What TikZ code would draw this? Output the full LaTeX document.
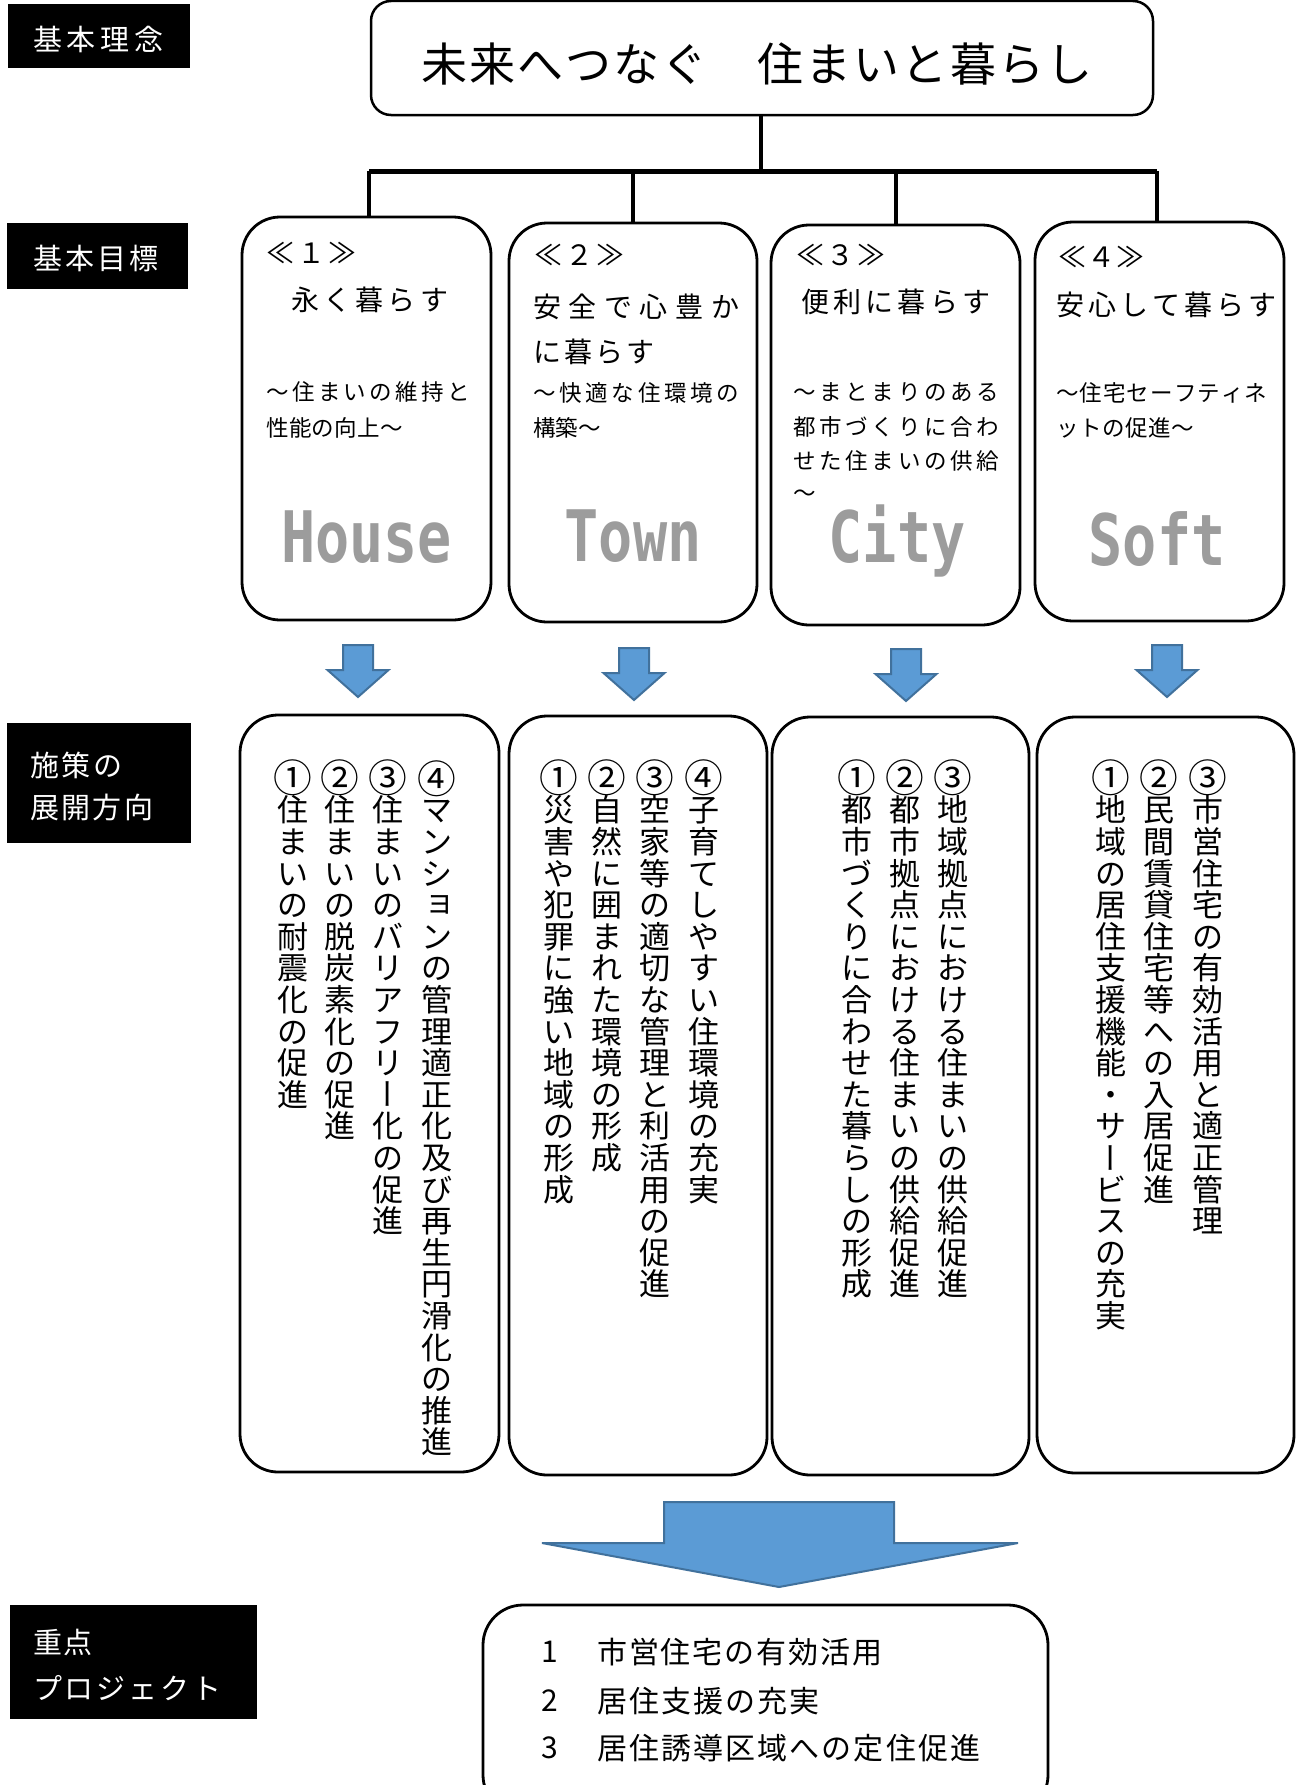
\documentclass[tikz,border=0pt]{standalone}
\usepackage{fontspec}
\setmainfont{Noto Sans CJK JP}
\newfontfamily\wordfont{DejaVu Sans Mono}[FakeStretch=0.8]
\definecolor{arrowfill}{HTML}{5B9BD5}
\definecolor{arrowline}{HTML}{41719C}
\definecolor{wordgray}{HTML}{9C9C9C}
\makeatletter
\newcommand\spreadto[2]{\hbox to #1{\spr@first#2\@nil}}
\def\spr@first#1{#1\spr@loop}
\def\spr@loop#1{\ifx#1\@nil\else\hfil#1\expandafter\spr@loop\fi}
\newcommand\vstack[1]{\vbox{\baselineskip=31.6pt\lineskiplimit=-100pt\lineskip=0pt\vst@loop#1\@nil}}
\def\vst@loop#1{\ifx#1\@nil\else\hbox to 32pt{\hss#1\hss}\expandafter\vst@loop\fi}
\makeatother
\newcommand\zsp{\hbox to 1em{}}
\newcommand\vbar{\rotatebox[origin=c]{90}{\raisebox{0pt}[0.88em][0.12em]{ー}}}
\newcommand\vyo{\kern0.2em\raisebox{0.12em}{ョ}}
\newcommand\circnum[1]{\raisebox{-0.09em}{\scalebox{1.25}{#1}}}
\newcommand\cA{\circnum{①}}
\newcommand\cB{\circnum{②}}
\newcommand\cC{\circnum{③}}
\newcommand\cD{\circnum{④}}
\tikzset{
  topbox/.style={draw, line width=2.5pt, rounded corners=20pt, inner sep=0pt, outer sep=0pt},
  goalbox/.style={draw, line width=2.8pt, rounded corners=38pt, inner sep=0pt, outer sep=0pt},
  labelbox/.style={fill=black, draw=black, inner sep=0pt, outer sep=0pt},
  link/.style={line width=4pt},
  barline/.style={line width=5pt},
  ttl/.style={inner sep=0pt, anchor=west, font=\fontsize{28}{30}\selectfont},
  sub/.style={inner sep=0pt, anchor=west, font=\fontsize{22.5}{24}\selectfont},
  lbl/.style={inner sep=0pt, anchor=west, text=white, font=\fontsize{29}{31}\selectfont},
  col/.style={inner sep=0pt, anchor=north, font=\fontsize{31}{31.6}\selectfont},
  prj/.style={inner sep=0pt, anchor=west, font=\fontsize{30}{32}\selectfont},
  word/.style={inner sep=0pt, anchor=base, text=wordgray, font=\wordfont\bfseries\fontsize{71}{75}\selectfont},
  bluearrow/.style={fill=arrowfill, draw=arrowline, line width=2pt, line join=miter}
}
\begin{document}
\begin{tikzpicture}[x=1pt,y=-1pt]
\useasboundingbox (0,0) rectangle (1300,1785);
\fill[white] (0,0) rectangle (1300,1785);
\clip (0,0) rectangle (1300,1785);

% ---- labels on the left
\node[labelbox, minimum width=181, minimum height=63] (L1) at (98.5,35.5) {};
\node[lbl] (L1t) at (33,39) {\spreadto{130pt}{基本理念}};
\node[labelbox, minimum width=180, minimum height=65] (L2) at (97,255.5) {};
\node[lbl] (L2t) at (33,258) {\spreadto{125pt}{基本目標}};
\node[labelbox, minimum width=183, minimum height=119] (L3) at (98.5,782.5) {};
\node[lbl] (L3a) at (30,765) {\spreadto{92pt}{施策の}};
\node[lbl] (L3b) at (30,807) {\spreadto{123pt}{展開方向}};
\node[labelbox, minimum width=246, minimum height=113] (L4) at (133,1661.5) {};
\node[lbl] (L4a) at (33,1642) {\spreadto{59pt}{重点}};
\node[lbl] (L4b) at (33,1688) {\spreadto{188pt}{プロジェクト}};

% ---- top box
\node[topbox, minimum width=782, minimum height=114] (top) at (762,58) {};
\node[inner sep=0pt, anchor=west, font=\fontsize{46}{50}\selectfont] (topt) at (421,64)
  {\spreadto{671pt}{未来へつなぐ\zsp 住まいと暮らし}};

% ---- goal boxes
\node[goalbox, minimum width=249, minimum height=403] (g1) at (366.5,418.5) {};
\node[goalbox, minimum width=248, minimum height=399] (g2) at (633,422.5) {};
\node[goalbox, minimum width=249, minimum height=400] (g3) at (895.5,425) {};
\node[goalbox, minimum width=249, minimum height=399] (g4) at (1159.5,421.5) {};

% ---- tree connectors
\coordinate (hub) at (761,171);
\coordinate (d1) at (369,171);
\coordinate (d2) at (633,171);
\coordinate (d3) at (896,171);
\coordinate (d4) at (1157,171);
\draw[link] (top.south -| hub) -- (hub);
\draw[barline] (d1) -- (d4);
\draw[link] (d1) -- (d1 |- g1.north);
\draw[link] (d2) -- (d2 |- g2.north);
\draw[link] (d3) -- (d3 |- g3.north);
\draw[link] (d4) -- (d4 |- g4.north);

% ---- goal texts
\node[ttl] at (266,253) {\spreadto{90pt}{≪１≫}};
\node[ttl] at (291,300) {\spreadto{157pt}{永く暮らす}};
\node[sub] at (266,392) {\spreadto{204pt}{～住まいの維持と}};
\node[sub] at (266,428) {\spreadto{137pt}{性能の向上～}};

\node[ttl] at (534,255) {\spreadto{90pt}{≪２≫}};
\node[ttl] at (533,307) {\spreadto{206pt}{安全で心豊か}};
\node[ttl] at (533,352) {\spreadto{121pt}{に暮らす}};
\node[sub] at (533,393) {\spreadto{206pt}{～快適な住環境の}};
\node[sub] at (533,428) {\spreadto{66pt}{構築～}};

\node[ttl] at (796,255) {\spreadto{89pt}{≪３≫}};
\node[ttl] at (801,302) {\spreadto{189pt}{便利に暮らす}};
\node[sub] at (793,392) {\spreadto{206pt}{～まとまりのある}};
\node[sub] at (793,427) {\spreadto{206pt}{都市づくりに合わ}};
\node[sub] at (793,461) {\spreadto{206pt}{せた住まいの供給}};
\node[sub] at (793,496) {～};

\node[ttl] at (1058,257) {\spreadto{86pt}{≪４≫}};
\node[ttl] at (1056,305) {\spreadto{220pt}{安心して暮らす}};
\node[sub] at (1056,393) {\spreadto{211pt}{～住宅セーフティネ}};
\node[sub] at (1056,428) {\spreadto{138pt}{ットの促進～}};

\node[word] at (366.5,562) {House};
\node[word] at (633,561) {Town};
\node[word] at (897,562) {City};
\node[word] at (1157,565) {Soft};

% ---- small arrows
\foreach \cx/\ty in {358/645, 634/648, 906/649, 1167/645}{
  \draw[bluearrow] (\cx-15,\ty) -- (\cx+15,\ty) -- (\cx+15,\ty+25) -- (\cx+30.5,\ty+25)
    -- (\cx,\ty+52) -- (\cx-30.5,\ty+25) -- (\cx-15,\ty+25) -- cycle;
}

% ---- policy boxes
\node[goalbox, minimum width=259, minimum height=757] (p1) at (369.5,1093.5) {};
\node[goalbox, minimum width=258, minimum height=759] (p2) at (638,1095.5) {};
\node[goalbox, minimum width=257, minimum height=758] (p3) at (900.5,1096) {};
\node[goalbox, minimum width=257, minimum height=756] (p4) at (1165.5,1095) {};

\node[col] at (293,760) {\vstack{\cA 住まいの耐震化の促進}};
\node[col] at (340,760) {\vstack{\cB 住まいの脱炭素化の促進}};
\node[col] at (388,760) {\vstack{\cC 住まいのバリアフリ\vbar 化の促進}};
\node[col] at (437,760) {\vstack{\cD マンシ\vyo ンの管理適正化及び再生円滑化の推進}};

\node[col] at (559,760) {\vstack{\cA 災害や犯罪に強い地域の形成}};
\node[col] at (607,760) {\vstack{\cB 自然に囲まれた環境の形成}};
\node[col] at (655,760) {\vstack{\cC 空家等の適切な管理と利活用の促進}};
\node[col] at (704,760) {\vstack{\cD 子育てしやすい住環境の充実}};

\node[col] at (857,760) {\vstack{\cA 都市づくりに合わせた暮らしの形成}};
\node[col] at (905,760) {\vstack{\cB 都市拠点における住まいの供給促進}};
\node[col] at (953,760) {\vstack{\cC 地域拠点における住まいの供給促進}};

\node[col] at (1111,760) {\vstack{\cA 地域の居住支援機能・サ\vbar ビスの充実}};
\node[col] at (1159,760) {\vstack{\cB 民間賃貸住宅等への入居促進}};
\node[col] at (1208,760) {\vstack{\cC 市営住宅の有効活用と適正管理}};

% ---- big arrow
\draw[bluearrow] (664,1502) -- (894,1502) -- (894,1543) -- (1018,1543) -- (779,1587)
  -- (542,1543) -- (664,1543) -- cycle;

% ---- project box
\node[goalbox, minimum width=565, minimum height=210, rounded corners=40pt] (proj) at (765.5,1710) {};
\node[prj] at (541,1652) {1};
\node[prj] at (597,1652) {\spreadto{285pt}{市営住宅の有効活用}};
\node[prj] at (541,1701) {2};
\node[prj] at (597,1701) {\spreadto{222pt}{居住支援の充実}};
\node[prj] at (541,1748) {3};
\node[prj] at (597,1748) {\spreadto{383pt}{居住誘導区域への定住促進}};
\end{tikzpicture}
\end{document}
